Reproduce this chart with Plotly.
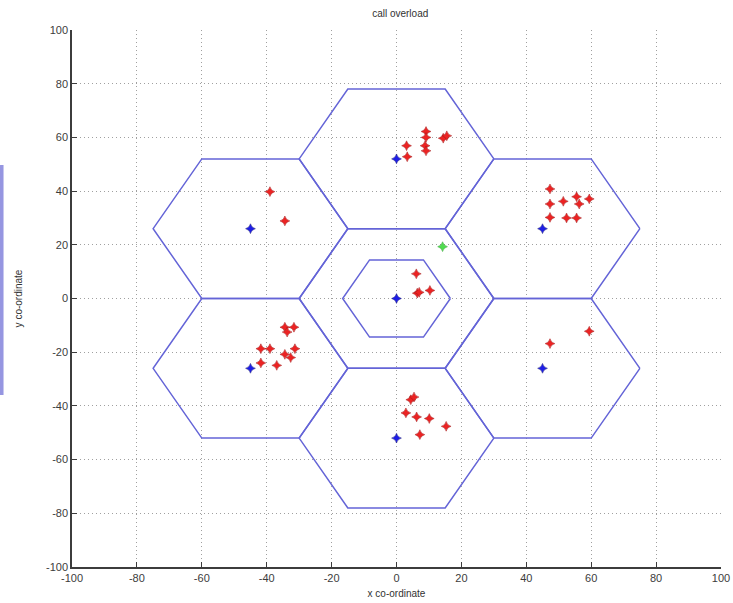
import numpy as np
import plotly.graph_objects as go

# ---- data ----
cell_centers_x = [0, 0, 45, 45, 0, -45, -45]
cell_centers_y = [0, 52, 26, -26, -52, -26, 26]
cell_radius = 30
inner_radius = 16.6

base_x = [0, 0, 45, 45, 0, -45, -45]
base_y = [0, 52, 26, -26, -52, -26, 26]

users_x = [3.1, 3.3, 9.1, 9.1, 8.8, 9.1, 14.4, 15.5,
           6.1, 6.4, 7.0, 10.3,
           -39.0, -34.4,
           47.3, 47.3, 47.3, 51.4, 52.4, 55.5, 56.3, 55.5, 59.4,
           -34.4, -33.7, -31.6, -41.8, -39.0, -34.4, -31.3, -32.6, -41.8, -36.9,
           47.3, 59.4,
           4.4, 5.4, 2.9, 6.2, 10.1, 15.3, 7.2]
users_y = [56.9, 52.8, 62.2, 60.0, 56.9, 55.0, 59.7, 60.6,
           9.2, 2.0, 2.3, 3.0,
           39.8, 28.9,
           40.8, 35.2, 30.2, 36.2, 30.0, 37.9, 35.2, 30.0, 37.1,
           -10.7, -12.5, -10.7, -18.7, -18.7, -20.8, -18.7, -22.0, -24.0, -24.9,
           -16.8, -12.2,
           -37.7, -36.7, -42.6, -44.1, -44.7, -47.6, -50.7]

overload_x = [14.2]
overload_y = [19.3]

ticks = [-100, -80, -60, -40, -20, 0, 20, 40, 60, 80, 100]

# ---- figure ----
fig = go.Figure()

ang = np.deg2rad(np.arange(0, 361, 60))
hx, hy = [], []
for cx, cy in zip(cell_centers_x, cell_centers_y):
    hx += list(cx + cell_radius * np.cos(ang)) + [None]
    hy += list(cy + cell_radius * np.sin(ang)) + [None]
hx += list(inner_radius * np.cos(ang))
hy += list(inner_radius * np.sin(ang))

line_col = "rgb(100,100,215)"
fig.add_trace(go.Scatter(x=hx, y=hy, mode="lines",
                         line=dict(color=line_col, width=1.5),
                         hoverinfo="skip", showlegend=False))

msize = 7
fig.add_trace(go.Scatter(x=users_x, y=users_y, mode="markers",
                         marker=dict(symbol="star-diamond", size=msize, color="rgb(235,35,35)",
                                     line=dict(color="rgb(160,20,20)", width=0.5)),
                         showlegend=False))
fig.add_trace(go.Scatter(x=base_x, y=base_y, mode="markers",
                         marker=dict(symbol="star-diamond", size=msize, color="rgb(30,30,230)",
                                     line=dict(color="rgb(20,20,120)", width=0.5)),
                         showlegend=False))
fig.add_trace(go.Scatter(x=overload_x, y=overload_y, mode="markers",
                         marker=dict(symbol="star-diamond", size=msize, color="rgb(80,220,80)",
                                     line=dict(color="rgb(50,160,50)", width=0.5)),
                         showlegend=False))

axis_common = dict(
    range=[-100, 100], tickvals=ticks, ticktext=[str(t) for t in ticks],
    showgrid=True, gridcolor="rgb(160,160,160)", griddash="1px,3px", gridwidth=1,
    zeroline=False, showline=True, linecolor="rgb(60,60,60)", linewidth=1.5,
    ticks="inside", ticklen=5, tickcolor="rgb(60,60,60)",
    tickfont=dict(family="Liberation Sans, Arial", size=11, color="rgb(60,60,60)"),
    mirror=False, automargin=False,
)

fig.update_layout(
    width=733, height=603,
    margin=dict(l=72, r=12, t=30, b=36),
    paper_bgcolor="white", plot_bgcolor="white",
    title=dict(text="call overload", x=0.546, xanchor="center", y=0.978, yanchor="middle",
               font=dict(family="Liberation Sans, Arial", size=10, color="rgb(50,50,50)"), automargin=False),
    xaxis=dict(**axis_common,
               title=dict(text="x co-ordinate", standoff=7,
                          font=dict(family="Liberation Sans, Arial", size=10, color="rgb(50,50,50)"))),
    yaxis=dict(**axis_common,
               title=dict(text="y co-ordinate", standoff=22,
                          font=dict(family="Liberation Sans, Arial", size=10, color="rgb(50,50,50)"))),
    shapes=[dict(type="rect", xref="paper", yref="paper",
                 x0=-0.1109, x1=-0.1055, y0=0.3203, y1=0.7486,
                 fillcolor="rgb(150,150,225)", line=dict(width=0), layer="above")],
)

fig.write_html("out.html")
